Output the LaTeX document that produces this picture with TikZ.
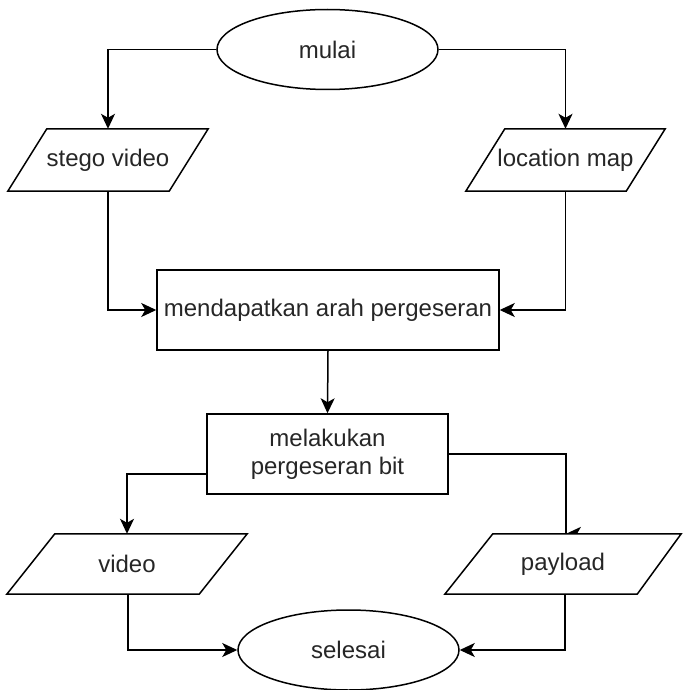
\documentclass[tikz,border=0pt]{standalone}
\usepackage{fontspec}
\setmainfont{Liberation Sans}
\usetikzlibrary{arrows.meta,shapes.geometric,calc}
\begin{document}
\begin{tikzpicture}[x=1pt,y=-1pt,
  every node/.style={font=\fontsize{24}{28}\selectfont, text=black!85, align=center, inner sep=0pt},
  term/.style={draw=black, ellipse, line width=1.5pt, minimum width=221pt, minimum height=80pt},
  procbox/.style={draw=black, rectangle, line width=1.5pt},
  iobox/.style={rectangle, minimum height=62pt},
  shapeline/.style={draw=black, line width=1.5pt, line join=miter},
  conn/.style={line width=1.5pt, -{Stealth[length=15pt,width=14pt,inset=4pt]}},
  plainconn/.style={line width=1.5pt}
]
\useasboundingbox (0,0) rectangle (682,690);

% nodes
\node[term] (mulai) at (327.5,49.5) {mulai};
\node[iobox, minimum width=200pt] (sv) at (108,160) {stego video};
\node[iobox, minimum width=199pt] (lm) at (565.5,160) {location map};
\node[procbox, minimum width=342pt, minimum height=80pt] (md) at (328,310) {mendapatkan arah pergeseran};
\node[procbox, minimum width=241pt, minimum height=80pt] (mk) at (327.5,454) {melakukan\\pergeseran bit};
\node[iobox, minimum width=240pt, minimum height=60pt] (vd) at (127,564) {video};
\node[iobox, minimum width=236pt, minimum height=60pt] (pl) at (563,564) {payload};
\node[term] (se) at (348.5,650) {selesai};

% parallelograms
\draw[shapeline] (sv.south west) -- ([xshift=-39pt]sv.south east) -- (sv.north east) -- ([xshift=39pt]sv.north west) -- cycle;
\draw[shapeline] (lm.south west) -- ([xshift=-39pt]lm.south east) -- (lm.north east) -- ([xshift=39pt]lm.north west) -- cycle;
\draw[shapeline] (vd.south west) -- ([xshift=-48pt]vd.south east) -- (vd.north east) -- ([xshift=48pt]vd.north west) -- cycle;
\draw[shapeline] (pl.south west) -- ([xshift=-44pt]pl.south east) -- (pl.north east) -- ([xshift=48pt]pl.north west) -- cycle;

% connectors
\draw[conn] (mulai.west) -| (sv.north);
\draw[conn] (mulai.east) -| (lm.north);
\draw[conn] (sv.south) |- (md.west);
\draw[conn] (lm.south) |- (md.east);
\draw[conn] (md.south) -- (mk.north);
\draw[conn] ([yshift=-20pt]mk.west) -| (vd.north);
\draw[plainconn] (mk.east) -| ([xshift=3pt]pl.north);
\fill ([xshift=3pt]pl.north) -- ++(15,-7) -- ++(-4,7) -- cycle;
\draw[conn] ([xshift=1pt]vd.south) |- (se.west);
\draw[conn] ([xshift=2pt]pl.south) |- (se.east);
\end{tikzpicture}
\end{document}
